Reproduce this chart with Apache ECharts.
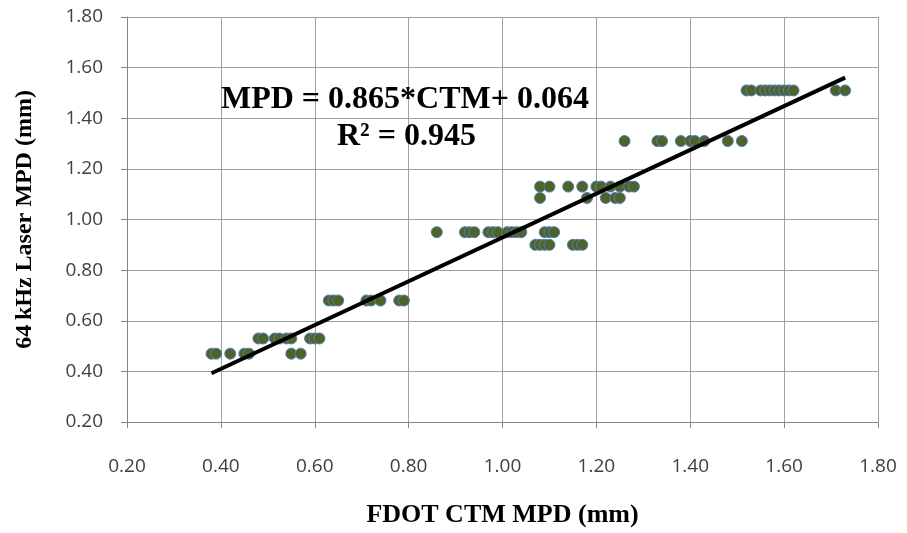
<!DOCTYPE html>
<html>
<head>
<meta charset="utf-8">
<script src="https://cdn.jsdelivr.net/npm/echarts@6/dist/echarts.min.js"></script>
<style>html,body{margin:0;padding:0;background:#fff}#c{width:907px;height:533px}</style>
</head>
<body>
<div id="c"></div>
<script>
// FDOT CTM MPD (mm)
const ctmMpd = [
  0.38, 0.39, 0.42, 0.45, 0.46, 0.55, 0.57,
  0.48, 0.49, 0.515, 0.525, 0.54, 0.55, 0.59, 0.60, 0.61,
  0.63, 0.64, 0.65, 0.71, 0.72, 0.74, 0.78, 0.79,
  0.86, 0.92, 0.93, 0.94, 0.97, 0.98, 0.99, 1.01, 1.02, 1.03, 1.04, 1.09, 1.10, 1.11,
  1.07, 1.08, 1.09, 1.10, 1.15, 1.16, 1.17,
  1.08, 1.18, 1.22, 1.24, 1.25,
  1.08, 1.10, 1.14, 1.17, 1.20, 1.21, 1.23, 1.25, 1.27, 1.28,
  1.26, 1.33, 1.34, 1.38, 1.40, 1.41, 1.43, 1.48, 1.51,
  1.52, 1.53, 1.55, 1.56, 1.57, 1.58, 1.59, 1.60, 1.61, 1.62, 1.71, 1.73
];
// 64 kHz Laser MPD (mm)
const laserMpd = [
  0.47, 0.47, 0.47, 0.47, 0.47, 0.47, 0.47,
  0.53, 0.53, 0.53, 0.53, 0.53, 0.53, 0.53, 0.53, 0.53,
  0.68, 0.68, 0.68, 0.68, 0.68, 0.68, 0.68, 0.68,
  0.95, 0.95, 0.95, 0.95, 0.95, 0.95, 0.95, 0.95, 0.95, 0.95, 0.95, 0.95, 0.95, 0.95,
  0.90, 0.90, 0.90, 0.90, 0.90, 0.90, 0.90,
  1.085, 1.085, 1.085, 1.085, 1.085,
  1.13, 1.13, 1.13, 1.13, 1.13, 1.13, 1.13, 1.13, 1.13, 1.13,
  1.31, 1.31, 1.31, 1.31, 1.31, 1.31, 1.31, 1.31, 1.31,
  1.51, 1.51, 1.51, 1.51, 1.51, 1.51, 1.51, 1.51, 1.51, 1.51, 1.51, 1.51
];
const slope = 0.865;
const intercept = 0.064;
const r2 = 0.945;
const axisTicks = [0.20, 0.40, 0.60, 0.80, 1.00, 1.20, 1.40, 1.60, 1.80];

const points = ctmMpd.map((x, i) => [x, laserMpd[i]]);
const xMin = Math.min(...ctmMpd), xMax = Math.max(...ctmMpd);
const trend = [[xMin, slope * xMin + intercept], [xMax, slope * xMax + intercept]];

const chart = echarts.init(document.getElementById('c'), null, {renderer: 'canvas'});
const tickFont = {fontFamily: 'Open Sans', fontSize: 19, color: '#404040'};
const xTitleFont = {fontFamily: 'Liberation Serif', fontWeight: 'bold', fontSize: 26, color: '#000'};
const yTitleFont = {fontFamily: 'Liberation Serif', fontWeight: 'bold', fontSize: 24, color: '#000'};
chart.setOption({
  animation: false,
  backgroundColor: '#fff',
  grid: {left: 127, right: 29, top: 17, bottom: 108, containLabel: false},
  xAxis: {
    type: 'value', min: axisTicks[0], max: axisTicks[axisTicks.length - 1], interval: 0.2,
    name: 'FDOT CTM MPD (mm)', nameLocation: 'middle', nameGap: 80, nameTextStyle: xTitleFont,
    axisLine: {show: true, lineStyle: {color: '#868686', width: 1}},
    axisTick: {show: true, inside: false, length: 6, lineStyle: {color: '#868686'}},
    axisLabel: Object.assign({margin: 35, formatter: v => v.toFixed(2)}, tickFont),
    splitLine: {show: true, lineStyle: {color: '#A0A0A0', width: 1}}
  },
  yAxis: {
    type: 'value', min: axisTicks[0], max: axisTicks[axisTicks.length - 1], interval: 0.2,
    name: '64\u2009kHz Laser MPD (mm)', nameLocation: 'middle', nameGap: 90, nameTextStyle: yTitleFont,
    axisLine: {show: true, lineStyle: {color: '#868686', width: 1}},
    axisTick: {show: true, inside: false, length: 6, lineStyle: {color: '#868686'}},
    axisLabel: Object.assign({margin: 24, formatter: v => v.toFixed(2)}, tickFont),
    splitLine: {show: true, lineStyle: {color: '#A0A0A0', width: 1}}
  },
  series: [
    {
      type: 'scatter', data: points, symbol: 'circle', symbolSize: 11, z: 3,
      itemStyle: {color: '#4F6228', borderColor: '#4F81BD', borderWidth: 1, opacity: 1}
    },
    {
      type: 'line', data: trend, symbol: 'none', z: 4, silent: true,
      lineStyle: {color: '#000', width: 4}
    }
  ],
  graphic: [
    {type: 'text', left: 405 - 184, top: 84, z: 10,
     style: {text: 'MPD = ' + slope.toFixed(3) + '*CTM+ ' + intercept.toFixed(3), fontFamily: 'Liberation Serif', fontWeight: 'bold', fontSize: 32, fill: '#000'}},
    {type: 'text', left: 337, top: 121, z: 10,
     style: {text: 'R\u00b2 = ' + r2.toFixed(3), fontFamily: 'Liberation Serif', fontWeight: 'bold', fontSize: 32, fill: '#000'}}
  ]
});
</script>
</body>
</html>
